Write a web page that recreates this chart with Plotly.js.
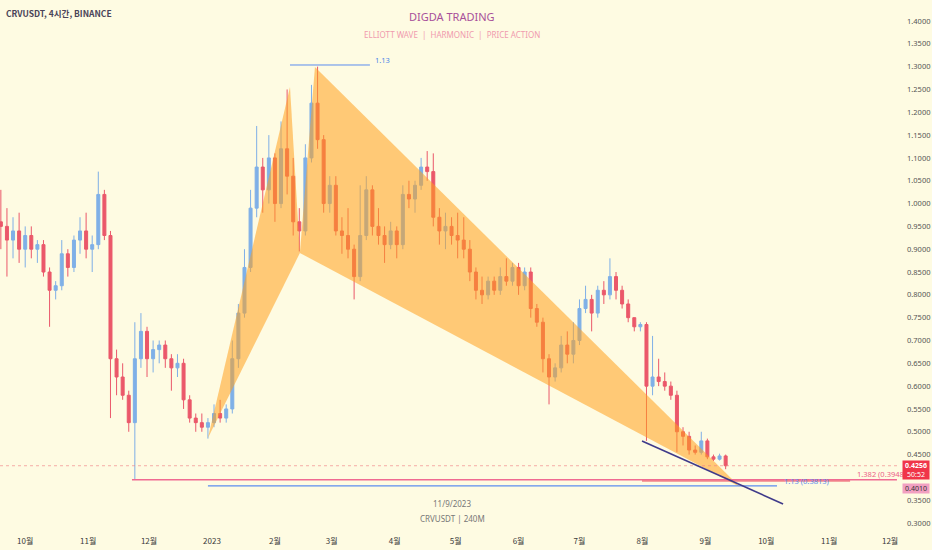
<!DOCTYPE html>
<html>
<head>
<meta charset="utf-8">
<script src="https://cdn.plot.ly/plotly-3.0.1.min.js"></script>
<style>html,body{margin:0;padding:0;background:#FEFBE2;}#chart{width:932px;height:550px;}</style>
</head>
<body>
<div id="chart"></div>
<script>
// ---- data (3-day candles) ----
const startDate = Date.UTC(2022, 8, 19);
const stepDays = 3;
const opens = [0.96,0.95,0.92,0.94,0.90,0.93,0.90,0.91,0.85,0.81,0.82,0.89,0.86,0.92,0.94,0.90,0.91,1.02,0.93,0.66,
0.62,0.58,0.52,0.66,0.72,0.66,0.68,0.69,0.66,0.64,0.65,0.57,0.53,0.52,0.51,0.52,0.54,0.53,0.55,0.66,
0.76,0.86,0.99,1.08,1.03,1.10,1.00,1.12,1.06,0.96,0.94,1.10,1.22,1.14,1.00,1.04,0.94,0.93,0.90,0.84,
0.93,1.03,0.95,0.93,0.91,0.94,0.91,1.02,1.01,1.04,1.08,1.07,0.97,0.94,0.95,0.93,0.92,0.90,0.85,0.81,
0.80,0.83,0.81,0.84,0.83,0.86,0.82,0.85,0.77,0.74,0.66,0.62,0.64,0.69,0.67,0.70,0.77,0.79,0.76,0.81,
0.80,0.84,0.81,0.78,0.75,0.73,0.735,0.60,0.62,0.61,0.60,0.58,0.50,0.49,0.46,0.455,0.48,0.445,0.44,0.447];
const highs = [1.03,0.99,0.97,0.98,0.95,0.95,0.92,0.92,0.86,0.83,0.92,0.90,0.93,0.97,0.98,0.93,1.07,1.03,0.94,0.68,
0.65,0.59,0.74,0.76,0.73,0.70,0.70,0.70,0.67,0.67,0.66,0.58,0.54,0.54,0.53,0.56,0.57,0.56,0.70,0.78,
0.90,1.03,1.17,1.10,1.15,1.11,1.18,1.25,1.10,0.99,1.13,1.26,1.30,1.15,1.06,1.06,0.97,0.99,0.91,1.04,
1.06,1.04,0.99,0.95,0.96,0.95,1.04,1.05,1.05,1.10,1.115,1.11,0.99,0.98,0.97,0.98,0.97,0.92,0.86,0.84,
0.84,0.84,0.86,0.88,0.87,0.87,0.86,0.86,0.78,0.75,0.67,0.65,0.71,0.72,0.74,0.79,0.82,0.80,0.82,0.83,
0.88,0.85,0.82,0.79,0.75,0.74,0.74,0.71,0.66,0.63,0.61,0.59,0.51,0.50,0.47,0.50,0.485,0.45,0.452,0.45];
const lows = [0.90,0.84,0.88,0.87,0.86,0.88,0.87,0.84,0.73,0.79,0.81,0.84,0.85,0.89,0.88,0.85,0.90,0.92,0.53,0.58,
0.57,0.50,0.395,0.64,0.62,0.63,0.65,0.64,0.59,0.62,0.55,0.52,0.50,0.50,0.485,0.51,0.52,0.52,0.54,0.64,
0.75,0.85,0.97,0.98,1.00,0.96,0.99,1.02,0.93,0.895,0.93,1.09,1.12,0.98,0.98,0.93,0.89,0.88,0.79,0.83,
0.92,0.93,0.91,0.87,0.90,0.88,0.90,0.99,0.98,1.03,1.05,0.95,0.91,0.90,0.91,0.88,0.88,0.83,0.79,0.78,
0.79,0.80,0.80,0.82,0.82,0.80,0.81,0.75,0.73,0.63,0.56,0.61,0.63,0.65,0.65,0.69,0.76,0.72,0.75,0.78,
0.79,0.79,0.77,0.74,0.72,0.72,0.48,0.58,0.60,0.59,0.57,0.455,0.47,0.45,0.45,0.45,0.44,0.436,0.437,0.418];
const closes = [0.95,0.92,0.94,0.90,0.93,0.90,0.91,0.85,0.81,0.82,0.89,0.86,0.92,0.94,0.90,0.91,1.02,0.93,0.66,0.62,
0.58,0.52,0.66,0.72,0.66,0.68,0.69,0.66,0.64,0.65,0.57,0.53,0.52,0.51,0.52,0.54,0.53,0.55,0.66,0.76,
0.86,0.99,1.08,1.03,1.10,1.00,1.12,1.06,0.96,0.94,1.10,1.22,1.14,1.00,1.04,0.94,0.93,0.90,0.84,0.93,
1.03,0.95,0.93,0.91,0.94,0.91,1.02,1.01,1.04,1.08,1.07,0.97,0.94,0.95,0.93,0.92,0.90,0.85,0.81,0.80,
0.83,0.81,0.84,0.83,0.86,0.82,0.85,0.77,0.74,0.66,0.62,0.64,0.69,0.67,0.70,0.77,0.79,0.76,0.81,0.80,
0.84,0.81,0.78,0.75,0.73,0.735,0.60,0.62,0.61,0.60,0.58,0.50,0.49,0.46,0.455,0.48,0.445,0.44,0.447,0.4256];

// harmonic pattern points X, A, B, C, D
const patternDates = ['2022-12-30 00:00','2023-02-08 10:00','2023-02-13 07:00','2023-02-20 17:00','2023-09-18 02:00'];
const patternPrices = [0.4863, 1.2554, 0.8917, 1.2992, 0.3790];

// levels
const topFibPrice = 1.3036;
const topFibDates = ['2023-02-08 10:00','2023-03-19 19:00'];
const pinkLevelPrice = 0.3948;
const pinkLevelDates = ['2022-11-22 14:00','2023-12-04 09:00'];
const redLevelPrice = 0.3921;
const redLevelDates = ['2023-07-31 19:00','2023-11-11 07:00'];
const blueLevelPrice = 0.3813;
const blueLevelDates = ['2022-12-30 00:00','2023-10-06 07:00'];
const trendDates = ['2023-07-31 19:00','2023-10-09 07:00'];
const trendPrices = [0.4798, 0.3417];
const lastPrice = 0.4256;

const monthTicks = ['2022-10-01','2022-11-01','2022-12-01','2023-01-01','2023-02-01','2023-03-01','2023-04-01','2023-05-01','2023-06-01','2023-07-01','2023-08-01','2023-09-01','2023-10-01','2023-11-01','2023-12-01'];
const monthLabels = ['10월','11월','12월','2023','2월','3월','4월','5월','6월','7월','8월','9월','10월','11월','12월'];
// price scale labels (0.4000 is covered by the price tags in the reference)
const priceTicks = [0.30,0.35,0.45,0.50,0.55,0.60,0.65,0.70,0.75,0.80,0.85,0.90,0.95,1.00,1.05,1.10,1.15,1.20,1.25,1.30,1.35,1.40];

// ---- build ----
const dates = opens.map((_, i) => new Date(startDate + i * stepDays * 864e5).toISOString().slice(0, 10));
const orange = 'rgba(255,160,30,0.55)';
const traces = [];
traces.push({type:'scatter', mode:'lines', x:[patternDates[0],patternDates[1],patternDates[2],patternDates[0]],
  y:[patternPrices[0],patternPrices[1],patternPrices[2],patternPrices[0]], fill:'toself', fillcolor:orange,
  line:{width:0,color:orange}, hoverinfo:'skip', showlegend:false});
traces.push({type:'scatter', mode:'lines', x:[patternDates[2],patternDates[3],patternDates[4],patternDates[2]],
  y:[patternPrices[2],patternPrices[3],patternPrices[4],patternPrices[2]], fill:'toself', fillcolor:orange,
  line:{width:0,color:orange}, hoverinfo:'skip', showlegend:false});
function hline(ds, p, color, w, dash) {
  traces.push({type:'scatter', mode:'lines', x:ds, y:[p,p], line:{color:color, width:w, dash:dash||'solid'}, hoverinfo:'skip', showlegend:false});
}
hline(['2022-09-18 14:00','2023-12-05 21:00'], lastPrice, 'rgba(240,120,130,0.6)', 1, 'dot');
hline(blueLevelDates, blueLevelPrice, '#5b8def', 1.2);
hline(pinkLevelDates, pinkLevelPrice, '#f06a92', 1.4);
hline(redLevelDates, redLevelPrice, '#ec4a5f', 1.2);
hline(topFibDates, topFibPrice, '#5b8def', 1);
traces.push({type:'scatter', mode:'lines', x:trendDates, y:trendPrices, line:{color:'#3f3a8a', width:1.6}, hoverinfo:'skip', showlegend:false});
traces.push({type:'candlestick', x:dates, open:opens, high:highs, low:lows, close:closes,
  increasing:{line:{color:'#72a8e8', width:1}, fillcolor:'#72a8e8'},
  decreasing:{line:{color:'#e9475e', width:1}, fillcolor:'#e9475e'},
  whiskerwidth:0, opacity:0.9, hoverinfo:'skip', showlegend:false});

const H = 532;
const py = px => 1 - px / H;
const fam = 'Noto Sans, Noto Sans CJK KR, sans-serif';
const layout = {
  width:932, height:550, margin:{l:0, r:32, t:0, b:18},
  paper_bgcolor:'#FEFBE2', plot_bgcolor:'#FEFBE2', showlegend:false,
  font:{family:fam},
  xaxis:{type:'date', range:['2022-09-18 14:00','2023-12-05 21:00'], showgrid:false, zeroline:false, showline:false,
    tickvals:monthTicks, ticktext:monthLabels, ticks:'', tickfont:{size:8, color:'#3a3a3a', family:'Noto Sans CJK KR'},
    ticklabelstandoff:3, rangeslider:{visible:false}, fixedrange:true},
  yaxis:{side:'right', range:[0.2804, 1.446], tickvals:priceTicks, tickformat:'.4f', showgrid:false, zeroline:false,
    showline:false, ticks:'', tickfont:{size:7.5, color:'#555'}, fixedrange:true, ticklabelstandoff:6},
  annotations:[
    {xref:'paper', yref:'paper', x:0.004, y:py(13), xanchor:'left', yanchor:'middle', showarrow:false,
     text:'<b>CRVUSDT, 4시간, BINANCE</b>', font:{size:8.5, color:'#4a4458', family:'Noto Sans CJK KR'}},
    {xref:'paper', yref:'paper', x:452/900, y:py(16), xanchor:'center', yanchor:'middle', showarrow:false,
     text:'DIGDA TRADING', font:{size:11, color:'#a8509a'}},
    {xref:'paper', yref:'paper', x:452/900, y:py(34), xanchor:'center', yanchor:'middle', showarrow:false,
     text:'ELLIOTT WAVE  |  HARMONIC  |  PRICE ACTION', font:{size:8, color:'#f09aae'}},
    {xref:'paper', yref:'paper', x:452/900, y:py(503), xanchor:'center', yanchor:'middle', showarrow:false,
     text:'11/9/2023', font:{size:8, color:'#777'}},
    {xref:'paper', yref:'paper', x:452/900, y:py(518), xanchor:'center', yanchor:'middle', showarrow:false,
     text:'CRVUSDT | 240M', font:{size:8, color:'#777'}},
    {x:'2023-03-21 12:00', y:topFibPrice, xanchor:'left', yanchor:'bottom', showarrow:false, yshift:-2,
     text:'1.13', font:{size:7.5, color:'#4a86e8'}},
    {x:'2023-11-13 17:00', y:pinkLevelPrice, xanchor:'left', yanchor:'bottom', showarrow:false, yshift:-1,
     text:'1.382 (0.3948)', font:{size:7.5, color:'#ec5f86'}},
    {x:'2023-10-08 19:00', y:blueLevelPrice, xanchor:'left', yanchor:'bottom', showarrow:false, yshift:-2,
     text:'1.13 (0.3813)', font:{size:7.5, color:'#5b8def'}},
    {xref:'paper', x:1, xanchor:'left', xshift:2, y:0.4160, yanchor:'middle', showarrow:false,
     text:'<b>0.4256</b><br>50:52', bgcolor:'#f03549', borderpad:0, width:26, font:{size:7, color:'#fff'}},
    {xref:'paper', x:1, xanchor:'left', xshift:2, y:0.3762, yanchor:'middle', showarrow:false,
     text:'0.4010', bgcolor:'#f2a0c2', borderpad:0, width:26, font:{size:7, color:'#333'}}
  ]
};
Plotly.newPlot('chart', traces, layout, {displayModeBar:false, staticPlot:true});
</script>
</body>
</html>
